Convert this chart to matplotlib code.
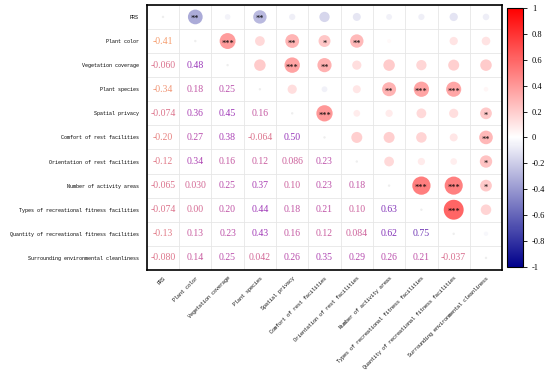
import numpy as np
import matplotlib.pyplot as plt
from matplotlib.colors import LinearSegmentedColormap, Normalize

labels = ['PRS', 'Plant color', 'Vegetation coverage', 'Plant species', 'Spatial privacy',
          'Comfort of rest facilities', 'Orientation of rest facilities', 'Number of activity areas',
          'Types of recreational fitness facilities', 'Quantity of recreational fitness facilities',
          'Surrounding environmental cleanliness']

# lower triangle, row by row
lower = [
    [-0.41],
    [-0.060, 0.48],
    [-0.34, 0.18, 0.25],
    [-0.074, 0.36, 0.45, 0.16],
    [-0.20, 0.27, 0.38, -0.064, 0.50],
    [-0.12, 0.34, 0.16, 0.12, 0.086, 0.23],
    [-0.065, 0.030, 0.25, 0.37, 0.10, 0.23, 0.18],
    [-0.074, 0.00, 0.20, 0.44, 0.18, 0.21, 0.10, 0.63],
    [-0.13, 0.13, 0.23, 0.43, 0.16, 0.12, 0.084, 0.62, 0.75],
    [-0.080, 0.14, 0.25, 0.042, 0.26, 0.35, 0.29, 0.26, 0.21, -0.037],
]

# significance marks in upper triangle (row, col)
stars = {
    (0, 1): '**', (0, 3): '**',
    (1, 2): '***', (1, 4): '**', (1, 5): '*', (1, 6): '**',
    (2, 4): '***', (2, 5): '**',
    (3, 7): '**', (3, 8): '***', (3, 9): '***',
    (4, 5): '***', (4, 10): '*',
    (5, 10): '**', (6, 10): '*', (7, 10): '*',
    (7, 8): '***', (7, 9): '***', (8, 9): '***',
}

cbar_ticks = [-1, -0.8, -0.6, -0.4, -0.2, 0, 0.2, 0.4, 0.6, 0.8, 1]
cbar_labels = ['-1', '-0.8', '-0.6', '-0.4', '-0.2', '0', '0.2', '0.4', '0.6', '0.8', '1']

n = len(labels)
R = np.eye(n)
for i, row in enumerate(lower):
    for j, v in enumerate(row):
        R[i + 1, j] = v
        R[j, i + 1] = v

def fmt(v):
    if v != 0 and abs(v) < 0.1:
        return f'{v:.3f}'
    return f'{v:.2f}'

cmap = LinearSegmentedColormap.from_list('bwr2', ['#00008B', '#ffffff', '#ff0000'])
norm = Normalize(-1, 1)
tcmap = plt.get_cmap('plasma_r')

plt.rcParams['font.family'] = ['Liberation Serif', 'DejaVu Serif']

fig = plt.figure(figsize=(5.5, 3.76), dpi=100)
ax = fig.add_axes([0.267, 0.282, 0.646, 0.705])

for i in range(n):
    for j in range(n):
        v = R[i, j]
        if i > j:
            ax.text(j, i, fmt(v), ha='center', va='center', fontsize=7,
                    color=tcmap((v + 1) / 2), alpha=0.8)
        elif i < j:
            ax.scatter(j, i, s=274 * abs(v), color=cmap(norm(v)), alpha=0.8,
                       edgecolors='none', zorder=2)
            if (i, j) in stars:
                ax.text(j, i + 0.1, stars[(i, j)], ha='center', va='center',
                        fontsize=6, color='black', zorder=3)
        else:
            ax.scatter(j, i, s=3, color='#eeeeee', edgecolors='none')

for k in range(n + 1):
    ax.axhline(k - 0.5, color='#e6e6e6', lw=0.6, zorder=0)
    ax.axvline(k - 0.5, color='#e6e6e6', lw=0.6, zorder=0)

ax.set_xlim(-0.5, n - 0.5)
ax.set_ylim(n - 0.5, -0.5)
ax.set_xticks(range(n))
ax.set_yticks(range(n))
ax.set_xticklabels(labels, rotation=45, ha='right', va='top', rotation_mode='anchor',
                   fontsize=3.6, family='Liberation Mono')
ax.set_yticklabels(labels, fontsize=3.6, family='Liberation Mono')
ax.tick_params(axis='y', length=0, pad=6)
ax.tick_params(axis='x', length=0, pad=4)
for sp in ax.spines.values():
    sp.set_linewidth(1.2)

cax = fig.add_axes([0.922, 0.29, 0.029, 0.689])
sm = plt.cm.ScalarMappable(norm=norm, cmap=cmap)
cb = fig.colorbar(sm, cax=cax, ticks=cbar_ticks)
cb.ax.set_yticklabels(cbar_labels)
cb.ax.tick_params(labelsize=6, length=3, width=0.6)
cb.outline.set_linewidth(0.8)

fig.savefig('out.png', dpi=100)
